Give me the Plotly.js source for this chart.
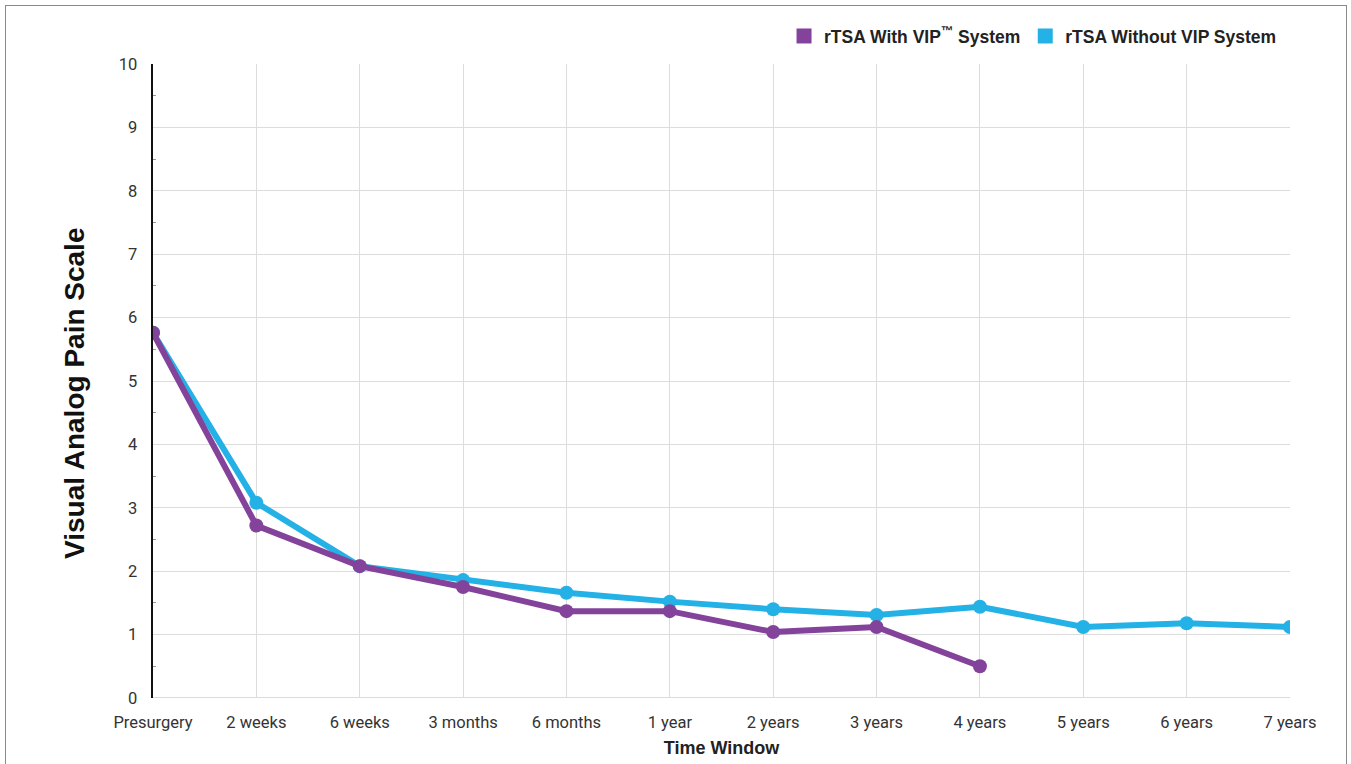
<!DOCTYPE html>
<html>
<head>
<meta charset="utf-8">
<script src="https://cdn.plot.ly/plotly-3.0.1.min.js"></script>
<style>
html,body{margin:0;padding:0;background:#fff;overflow:hidden;}
#chart{width:1351px;height:764px;}
#frame{position:absolute;left:5px;top:5px;width:1340px;height:800px;border:1.5px solid #8a8a8a;pointer-events:none;}
</style>
</head>
<body>
<div id="chart"></div>
<div id="frame"></div>
<script>
const timeWindows = ["Presurgery","2 weeks","6 weeks","3 months","6 months","1 year","2 years","3 years","4 years","5 years","6 years","7 years"];
const withVIP = [5.76, 2.72, 2.08, 1.75, 1.37, 1.37, 1.04, 1.12, 0.50, null, null, null];
const withoutVIP = [5.76, 3.08, 2.08, 1.86, 1.66, 1.52, 1.40, 1.31, 1.44, 1.12, 1.18, 1.12];
const seriesNames = ["rTSA With VIP<sup>\u2122</sup> System", "rTSA Without VIP System"];
const colors = ["#84439b", "#23b1e6"];
const yTitle = "Visual Analog Pain Scale";
const xTitle = "Time Window";

const xIdx = timeWindows.map((_, i) => i);

const traces = [
  {x: xIdx, y: withoutVIP, mode: "lines+markers", name: seriesNames[1], showlegend: false,
   line: {color: colors[1], width: 6}, marker: {color: colors[1], size: 14}, connectgaps: false},
  {x: xIdx, y: withVIP, mode: "lines+markers", name: seriesNames[0], showlegend: false,
   line: {color: colors[0], width: 6}, marker: {color: colors[0], size: 14}, connectgaps: false},
  {x: [null], y: [null], mode: "markers", name: seriesNames[0], showlegend: true,
   marker: {color: colors[0], size: 15, symbol: "square"}},
  {x: [null], y: [null], mode: "markers", name: seriesNames[1], showlegend: true,
   marker: {color: colors[1], size: 15, symbol: "square"}}
];

const tickFont = {family: "Roboto, 'Liberation Sans', sans-serif", size: 16.5, color: "#333"};

const layout = {
  width: 1351, height: 764,
  margin: {l: 153, r: 61, t: 64, b: 66},
  paper_bgcolor: "#ffffff", plot_bgcolor: "#ffffff",
  showlegend: true,
  legend: {orientation: "h", x: 0.993, xanchor: "right", y: 1.044, yanchor: "middle",
    font: {family: "'Liberation Sans', Arial, sans-serif", size: 17.5, color: "#222", weight: "bold"},
    tracegroupgap: 0, traceorder: "normal"},
  xaxis: {
    range: [0, 11], tickmode: "array", tickvals: xIdx, ticktext: timeWindows,
    showgrid: true, gridcolor: "#dcdcdc", gridwidth: 1,
    zeroline: false, showline: false, ticks: "", ticklabelstandoff: 12, tickfont: tickFont,
    fixedrange: true,
    title: {text: xTitle, standoff: 10,
      font: {family: "'Liberation Sans', Arial, sans-serif", size: 18, color: "#222", weight: "bold"}}
  },
  yaxis: {
    range: [0, 10], dtick: 1, tick0: 0,
    showgrid: true, gridcolor: "#dcdcdc", gridwidth: 1,
    zeroline: false, showline: true, linecolor: "#111", linewidth: 2.5,
    ticks: "", ticklabelstandoff: 10, tickfont: tickFont,
    minor: {dtick: 0.5, ticks: "inside", ticklen: 3, tickcolor: "#999", showgrid: false},
    fixedrange: true
  },
  annotations: [
    {text: yTitle, xref: "paper", yref: "paper", x: -0.0686, y: 0.4795, textangle: -90,
     xanchor: "center", yanchor: "middle", showarrow: false,
     font: {family: "'Liberation Sans', Arial, sans-serif", size: 28, color: "#111", weight: "bold"}}
  ],
  shapes: [
    {type: "line", xref: "x", yref: "y", x0: 0, x1: 11, y0: 0, y1: 0, line: {color: "#cfcfcf", width: 1.5}, layer: "below"}
  ]
};

Plotly.newPlot("chart", traces, layout, {displayModeBar: false, staticPlot: true});
</script>
</body>
</html>
